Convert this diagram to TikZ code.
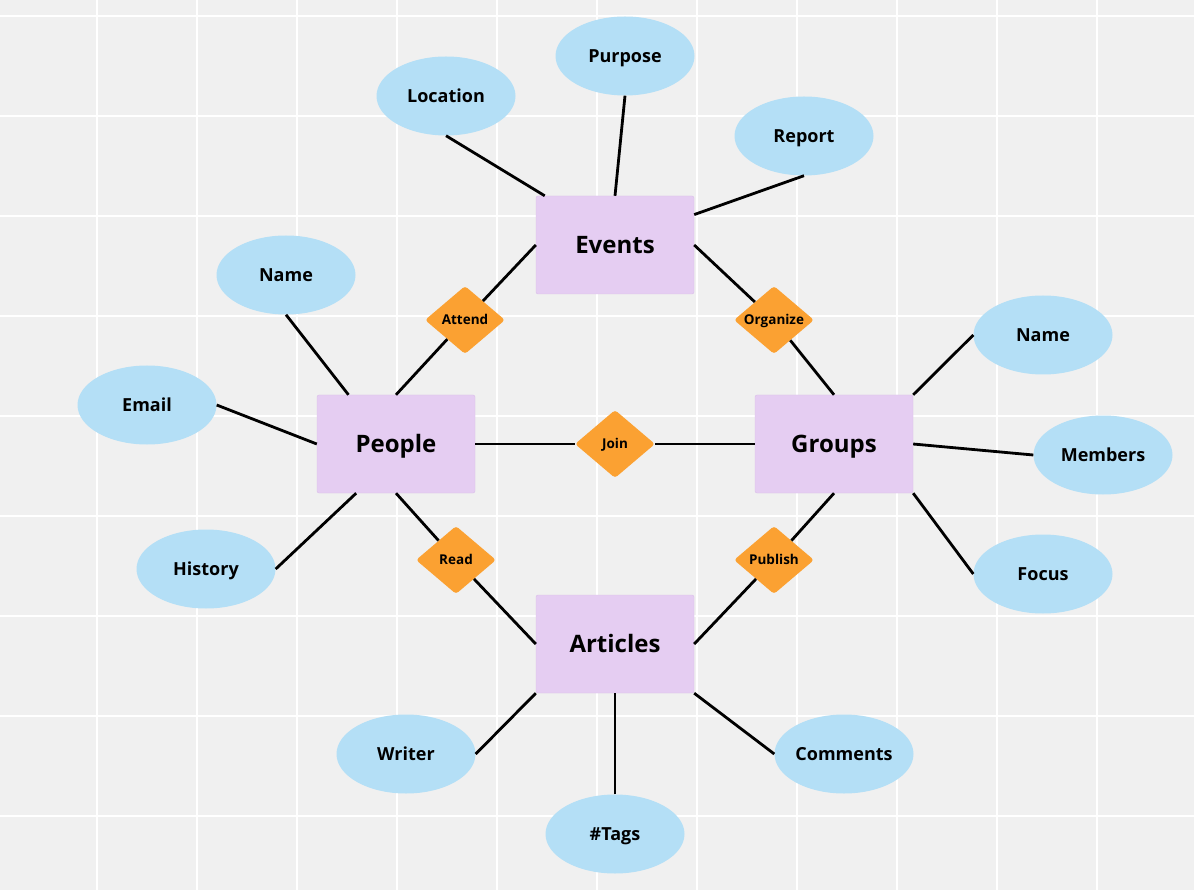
\documentclass[tikz,border=0pt]{standalone}
\usepackage{fontspec}
\setmainfont{Open Sans}
\usepackage{tikz}
\usetikzlibrary{shapes.geometric}

\definecolor{gridbg}{HTML}{F0F0F0}
\definecolor{entityfill}{HTML}{E5CDF2}
\definecolor{entityline}{HTML}{D9BEE8}
\definecolor{relfill}{HTML}{FBA132}
\definecolor{attrfill}{HTML}{B4DFF6}

\begin{document}
\begin{tikzpicture}[x=1pt, y=-1pt]

        % Styles of the three kinds of shapes and of the links
        \tikzset{
            entity/.style={draw=entityline, fill=entityfill, rounded corners=2pt,
                minimum width=158pt, minimum height=98pt, inner sep=0pt,
                font=\fontsize{24}{27}\selectfont\bfseries,
                text height=19pt, text depth=2pt},
            relation/.style={diamond, fill=relfill, rounded corners=3pt, aspect=1.18,
                minimum width=80pt, minimum height=68pt, inner sep=0pt,
                font=\fontsize{13.5}{15}\selectfont\bfseries,
                text height=11pt, text depth=1.4pt},
            attribute/.style={ellipse, fill=attrfill, minimum width=139pt,
                minimum height=79pt, inner sep=0pt,
                font=\fontsize{18}{20}\selectfont\bfseries,
                text height=14.5pt, text depth=1.7pt},
            link/.style={line width=2.8pt}
        }

        % Background with the white grid, 100 pixels apart
        \fill[gridbg] (0, 0) rectangle (1194, 890);
        \useasboundingbox (0, 0) rectangle (1194, 890);
        \foreach \x in {97, 197, ..., 1097}
            \draw[white, line width=2.5pt] (\x, 0) -- (\x, 890);
        \foreach \y in {16, 116, ..., 816}
            \draw[white, line width=2.5pt] (0, \y) -- (1194, \y);

        % Entities
        \node[entity] (events) at (615, 245) {Events};
        \node[entity] (people) at (396, 444) {People};
        \node[entity] (groups) at (834, 444) {Groups};
        \node[entity] (articles) at (615, 644) {Articles};

        % Relations between the entities
        \node[relation] (attend) at (465, 320) {Attend};
        \node[relation] (organize) at (774, 320) {Organize};
        \node[relation] (join) at (615, 444) {Join};
        \node[relation] (read) at (456, 560) {Read};
        \node[relation] (publish) at (774, 560) {Publish};

        % Attributes, in clockwise order round each entity
        \node[attribute] (location) at (446, 96) {Location};
        \node[attribute] (purpose) at (625, 56) {Purpose};
        \node[attribute] (report) at (804, 136) {Report};

        \node[attribute] (pname) at (286, 275) {Name};
        \node[attribute] (email) at (147, 405) {Email};
        \node[attribute] (history) at (206, 569) {History};

        \node[attribute] (gname) at (1043, 335) {Name};
        \node[attribute] (members) at (1103, 455) {Members};
        \node[attribute] (focus) at (1043, 574) {Focus};

        \node[attribute] (writer) at (406, 754) {Writer};
        \node[attribute] (tags) at (615, 834) {\#Tags};
        \node[attribute] (comments) at (844, 754) {Comments};

        \begin{scope}[link]
            \draw (location.south) -- (events.145);
            \draw (purpose.south) -- (events.north);
            \draw (report.south) -- (events.21);

            \draw (pname.south) -- (people.134);
            \draw (email.east) -- (people.west);
            \draw (history.east) -- (people.231);

            \draw (gname.west) -- (groups.north east);
            \draw (members.west) -- (groups.east);
            \draw (focus.west) -- (groups.south east);

            \draw (writer.east) -- (articles.south west);
            \draw (tags.north) -- (articles.south);
            \draw (comments.west) -- (articles.south east);

            \draw (people.north) -- (attend) -- (events.west);
            \draw (events.east) -- (organize) -- (groups.north);
            \draw (people.east) -- (join) -- (groups.west);
            \draw (people.south) -- (read) -- (articles.west);
            \draw (groups.south) -- (publish) -- (articles.east);
        \end{scope}

\end{tikzpicture}
\end{document}
